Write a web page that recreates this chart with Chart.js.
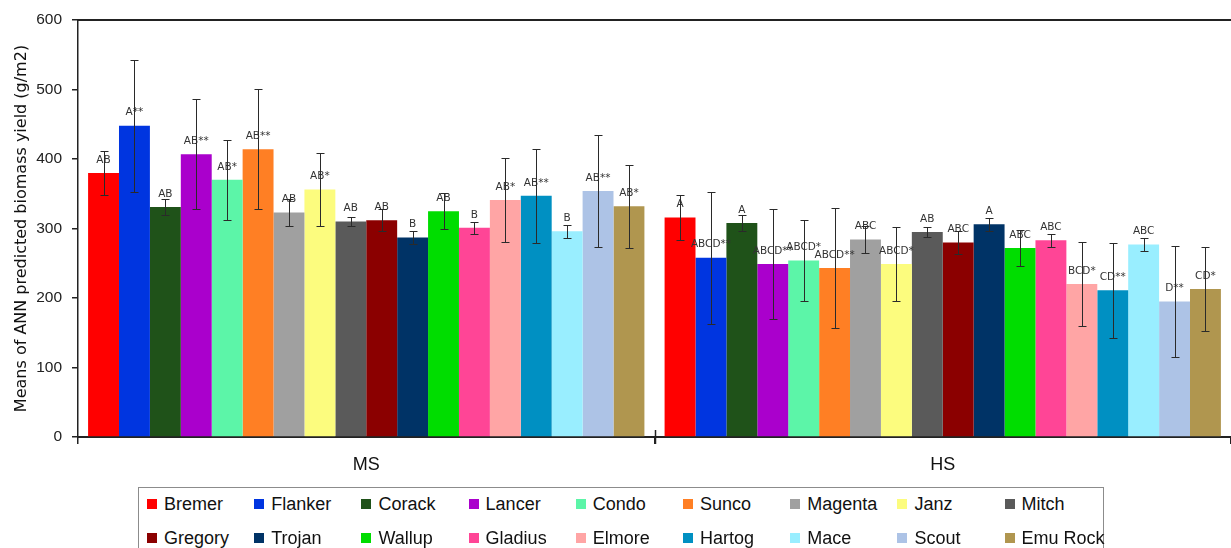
<!DOCTYPE html>
<html>
<head>
<meta charset="utf-8">
<script src="https://cdn.jsdelivr.net/npm/chart.js@4.4.1/dist/chart.umd.min.js"></script>
<style>
  html, body { margin: 0; padding: 0; background: #fff; overflow: hidden; }
  #wrap { position: relative; width: 1231px; height: 548px; }
  #c { position: absolute; left: 0; top: 0; }
  #legend {
    position: absolute; left: 138px; top: 487px; width: 966px; height: 90px;
    border: 1px solid #8c8c8c; box-sizing: border-box; background: #fff;
    font-family: 'Liberation Sans', Arial, sans-serif; font-size: 18px; color: #111;
  }
  .item { position: absolute; height: 22px; display: flex; align-items: center; white-space: nowrap; }
  .sw { width: 10px; height: 10px; margin-right: 7px; flex: none; }
</style>
</head>
<body>
<div id="wrap">
  <canvas id="c" width="1231" height="548"></canvas>
  <div id="legend"></div>
</div>
<script>
// Heat-stress condition groups on the x axis
const categories = ['MS', 'HS'];

// Wheat varieties (one bar series each)
const varieties = ['Bremer', 'Flanker', 'Corack', 'Lancer', 'Condo', 'Sunco', 'Magenta', 'Janz', 'Mitch',
                   'Gregory', 'Trojan', 'Wallup', 'Gladius', 'Elmore', 'Hartog', 'Mace', 'Scout', 'Emu Rock'];

const colors = ['#ff0000', '#0035e0', '#1f5219', '#aa00cc', '#5cf5a8', '#ff7f24', '#a0a0a0', '#fcfc7e', '#5a5a5a',
                '#8b0000', '#003366', '#00dd00', '#ff4596', '#ffa5a5', '#0090c2', '#99eeff', '#adc3e6', '#b0964f'];

// Mean predicted biomass (g/m2) per variety
const msMeans = [380, 448, 331, 407, 370, 414, 323, 356, 310, 312, 287, 325, 301, 341, 347, 296, 354, 332];
const hsMeans = [316, 258, 308, 249, 254, 243, 284, 249, 295, 280, 306, 272, 283, 220, 211, 277, 195, 213];

// Error bar half-lengths (g/m2)
const msErr = [32, 95, 12, 79, 58, 86, 19, 53, 7, 16, 10, 26, 9, 60, 68, 9, 80, 60];
const hsErr = [32, 95, 11, 79, 58, 86, 19, 53, 7, 16, 9, 26, 9, 60, 68, 9, 80, 60];

// Significance letters shown above each bar
const msLetters = ['AB', 'A**', 'AB', 'AB**', 'AB*', 'AB**', 'AB', 'AB*', 'AB', 'AB', 'B', 'AB', 'B', 'AB*', 'AB**', 'B', 'AB**', 'AB*'];
const hsLetters = ['A', 'ABCD**', 'A', 'ABCD**', 'ABCD*', 'ABCD**', 'ABC', 'ABCD*', 'AB', 'ABC', 'A', 'ABC', 'ABC', 'BCD*', 'CD**', 'ABC', 'D**', 'CD*'];

const yTicks = [0, 100, 200, 300, 400, 500, 600];

const datasets = varieties.map((name, i) => ({
  label: name,
  data: [msMeans[i], hsMeans[i]],
  err: [msErr[i], hsErr[i]],
  letters: [msLetters[i], hsLetters[i]],
  backgroundColor: colors[i],
  borderWidth: 0,
  barPercentage: 1.0,
  categoryPercentage: 0.965
}));

// Top frame line and the group separator tick crossing the x axis
const framePlugin = {
  id: 'frame',
  afterDraw(chart) {
    const { ctx, chartArea } = chart;
    const x = chart.scales.x;
    ctx.save();
    ctx.strokeStyle = '#222';
    ctx.lineWidth = 2;
    ctx.beginPath();
    ctx.moveTo(chartArea.left, chartArea.top);
    ctx.lineTo(chartArea.right, chartArea.top);
    ctx.stroke();
    const sep = Math.round((x.getPixelForValue(0) + x.getPixelForValue(1)) / 2) + 0.5;
    ctx.lineWidth = 1.5;
    ctx.beginPath();
    ctx.moveTo(sep, chartArea.bottom - 7);
    ctx.lineTo(sep, chartArea.bottom + 7);
    ctx.stroke();
    ctx.restore();
  }
};

// Letters above bars, then error bars on top
const annotatePlugin = {
  id: 'annotate',
  afterDatasetsDraw(chart) {
    const { ctx } = chart;
    const y = chart.scales.y;
    ctx.save();
    ctx.font = '10.5px "DejaVu Sans", sans-serif';
    ctx.fillStyle = '#333';
    ctx.textAlign = 'center';
    ctx.textBaseline = 'middle';
    chart.data.datasets.forEach((ds, di) => {
      const meta = chart.getDatasetMeta(di);
      meta.data.forEach((bar, j) => {
        ctx.fillText(ds.letters[j], bar.x, y.getPixelForValue(ds.data[j]) - 13);
      });
    });
    ctx.strokeStyle = '#2a2a2a';
    ctx.lineWidth = 1;
    chart.data.datasets.forEach((ds, di) => {
      const meta = chart.getDatasetMeta(di);
      meta.data.forEach((bar, j) => {
        const cx = Math.round(bar.x) + 0.5;
        const hi = Math.round(y.getPixelForValue(ds.data[j] + ds.err[j])) + 0.5;
        const lo = Math.round(y.getPixelForValue(ds.data[j] - ds.err[j])) + 0.5;
        ctx.beginPath();
        ctx.moveTo(cx, hi); ctx.lineTo(cx, lo);
        ctx.moveTo(cx - 4, hi); ctx.lineTo(cx + 4, hi);
        ctx.moveTo(cx - 4, lo); ctx.lineTo(cx + 4, lo);
        ctx.stroke();
      });
    });
    ctx.restore();
  }
};

new Chart(document.getElementById('c'), {
  type: 'bar',
  data: { labels: categories, datasets },
  plugins: [framePlugin, annotatePlugin],
  options: {
    responsive: false,
    animation: false,
    layout: { padding: { top: 20, right: 0, left: 0, bottom: 0 } },
    plugins: { legend: { display: false }, tooltip: { enabled: false } },
    scales: {
      x: {
        afterFit(scale) { scale.height = 111; },
        grid: { drawOnChartArea: false, offset: true, tickLength: 7, color: '#222', lineWidth: 1.5 },
        border: { color: '#222', width: 2 },
        ticks: { font: { family: 'Liberation Sans', size: 18 }, color: '#111', padding: 10 }
      },
      y: {
        min: 0, max: 600,
        afterFit(scale) { scale.width = 78; },
        afterBuildTicks(scale) { scale.ticks = yTicks.map(v => ({ value: v })); },
        grid: { drawOnChartArea: false, tickLength: 6, color: '#222', lineWidth: 1.5 },
        border: { color: '#222', width: 1.5 },
        ticks: { font: { family: 'Liberation Sans', size: 15.5 }, color: '#222', padding: 10 },
        title: {
          display: true,
          text: 'Means of ANN predicted biomass yield (g/m2)',
          font: { family: 'DejaVu Sans', size: 16 },
          color: '#111',
          padding: { top: 12, bottom: 0 }
        }
      }
    }
  }
});

// Legend: two rows of nine entries in a framed box
const legend = document.getElementById('legend');
varieties.forEach((name, i) => {
  const row = Math.floor(i / 9), col = i % 9;
  const el = document.createElement('div');
  el.className = 'item';
  el.style.left = (8 + col * 107.2) + 'px';
  el.style.top = (5 + row * 34) + 'px';
  const sw = document.createElement('span');
  sw.className = 'sw';
  sw.style.background = colors[i];
  const tx = document.createElement('span');
  tx.textContent = name;
  el.appendChild(sw); el.appendChild(tx);
  legend.appendChild(el);
});
</script>
</body>
</html>
